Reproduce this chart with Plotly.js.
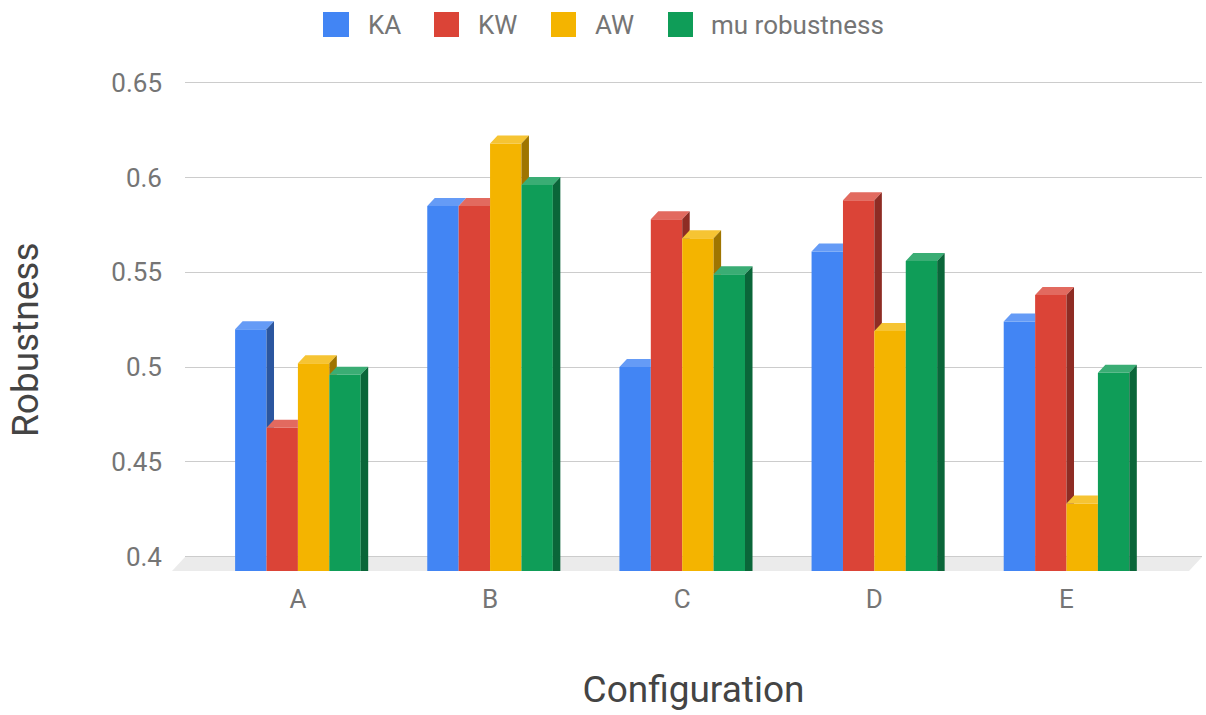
<!DOCTYPE html>
<html>
<head>
<meta charset="utf-8">
<script src="https://cdn.plot.ly/plotly-3.0.1.min.js"></script>
<style>html,body{margin:0;padding:0;background:#fff;}#chart{width:1206px;height:715px;}</style>
</head>
<body>
<div id="chart"></div>
<script>
// ---- data ----
const categories = ['A', 'B', 'C', 'D', 'E'];
const seriesNames = ['KA', 'KW', 'AW', 'mu robustness'];
const KA = [0.520, 0.585, 0.500, 0.561, 0.524];
const KW = [0.468, 0.585, 0.578, 0.588, 0.538];
const AW = [0.502, 0.618, 0.568, 0.519, 0.428];
const MU = [0.496, 0.596, 0.549, 0.556, 0.497];
const yTickVals = [0.4, 0.45, 0.5, 0.55, 0.6, 0.65];
const yTickText = ['0.4', '0.45', '0.5', '0.55', '0.6', '0.65'];

// ---- styling ----
const seriesValues = [KA, KW, AW, MU];
const frontColors = ['#4285F4', '#DB4437', '#F4B400', '#0F9D58'];
const topColors   = ['#659bf6', '#e26a5f', '#f6c433', '#3aad74'];
const sideColors  = ['#2b569f', '#8e2c24', '#9f7500', '#0a6639'];

const W = 1206, H = 715;
const plotL = 185, plotR = 1202, plotT = 70, plotB = 571;
const xRange = [-0.5876, 4.7051];
const yRange = [0.39246, 0.6567];
const pxPerX = (plotR - plotL) / (xRange[1] - xRange[0]);
const pxPerY = (plotB - plotT) / (yRange[1] - yRange[0]);
const bw = 0.1634;           // width of one bar (x units)
const dx = 7.5 / pxPerX;     // 3D depth, x
const dy = 8 / pxPerY;       // 3D depth, y
const yBase = yRange[0];
const catX = categories.map((c, i) => i);

const px2paperX = p => (p - plotL) / (plotR - plotL);
const px2paperY = p => (plotB - p) / (plotB - plotT);

const traces = [];
// front faces as bars
seriesValues.forEach((vals, j) => {
  traces.push({
    type: 'bar',
    name: seriesNames[j],
    x: catX,
    y: vals.map(v => v - yBase),
    base: yBase,
    width: bw,
    offset: (j - 2) * bw,
    marker: {color: frontColors[j], line: {width: 0}},
    customdata: vals,
    hovertemplate: seriesNames[j] + ': %{customdata}<extra></extra>',
    showlegend: false
  });
});
// top and side faces (3D), hidden parts removed
seriesValues.forEach((vals, j) => {
  const tx = [], ty = [], sx = [], sy = [];
  vals.forEach((v, i) => {
    const xl = catX[i] + (j - 2) * bw, xr = xl + bw;
    const hasNext = j < seriesValues.length - 1;
    const vn = hasNext ? seriesValues[j + 1][i] : -Infinity;
    // top face
    const t = Math.max(0, Math.min(1, (vn - v) / dy));
    if (t <= 0) {
      tx.push(xl, xr, xr + dx, xl + dx, xl, null);
      ty.push(v, v, v + dy, v + dy, v, null);
    } else if (t >= 1) {
      tx.push(xl, xr, xr, xl + dx, xl, null);
      ty.push(v, v, v + dy, v + dy, v, null);
    } else {
      tx.push(xl, xr, xr, xr + dx * t, xr + dx, xl + dx, xl, null);
      ty.push(v, v, vn, vn, v + dy, v + dy, v, null);
    }
    // side face
    if (v > vn) {
      const low = hasNext ? vn : yBase;
      sx.push(xr, xr, xr + dx, xr + dx, xr, null);
      sy.push(low, v, v + dy, low, low, null);
    }
  });
  traces.push({type: 'scatter', mode: 'lines', x: tx, y: ty, fill: 'toself',
    fillcolor: topColors[j], line: {width: 0, color: topColors[j]}, hoverinfo: 'skip', showlegend: false});
  traces.push({type: 'scatter', mode: 'lines', x: sx, y: sy, fill: 'toself',
    fillcolor: sideColors[j], line: {width: 0, color: sideColors[j]}, hoverinfo: 'skip', showlegend: false});
});

// floor
const shapes = [{
  type: 'path', xref: 'paper', yref: 'paper', layer: 'below',
  path: 'M ' + px2paperX(172) + ' ' + px2paperY(plotB) +
        ' L ' + px2paperX(1189) + ' ' + px2paperY(plotB) +
        ' L ' + px2paperX(1202) + ' ' + px2paperY(557) +
        ' L ' + px2paperX(185) + ' ' + px2paperY(557) + ' Z',
  fillcolor: '#ebebeb', line: {width: 0}
}];
// legend
const legSwatch = [[323, 349], [434, 459], [551, 576], [668, 693]];
const legText = [366, 476, 593, 709];
const annotations = [];
seriesNames.forEach((n, j) => {
  shapes.push({type: 'rect', xref: 'paper', yref: 'paper',
    x0: px2paperX(legSwatch[j][0]), x1: px2paperX(legSwatch[j][1]),
    y0: px2paperY(37), y1: px2paperY(12),
    fillcolor: frontColors[j], line: {width: 0}});
  annotations.push({xref: 'paper', yref: 'paper', x: px2paperX(legText[j]), y: px2paperY(25),
    xanchor: 'left', yanchor: 'middle', showarrow: false, text: n,
    font: {family: 'Roboto', size: 26, color: '#757575'}});
});
// y axis title
annotations.push({xref: 'paper', yref: 'paper', x: px2paperX(25), y: px2paperY(340),
  xanchor: 'center', yanchor: 'middle', showarrow: false, text: 'Robustness', textangle: -90,
  font: {family: 'Roboto', size: 37, color: '#444444'}});

const layout = {
  width: W, height: H,
  margin: {l: plotL, r: W - plotR, t: plotT, b: H - plotB, pad: 0},
  paper_bgcolor: '#ffffff', plot_bgcolor: '#ffffff',
  font: {family: 'Roboto', color: '#757575'},
  barmode: 'overlay',
  showlegend: false,
  xaxis: {
    range: xRange, tickvals: catX, ticktext: categories,
    showgrid: false, zeroline: false, showline: false, ticks: '',
    tickfont: {family: 'Roboto', size: 26, color: '#757575'},
    ticklabelstandoff: 10,
    title: {text: 'Configuration', font: {family: 'Roboto', size: 37, color: '#444444'}, standoff: 63},
    automargin: false, fixedrange: true
  },
  yaxis: {
    range: yRange, tickvals: yTickVals, ticktext: yTickText,
    showgrid: true, gridcolor: '#cccccc', gridwidth: 1,
    zeroline: false, showline: false, ticks: '',
    tickfont: {family: 'Roboto', size: 26, color: '#757575'},
    ticklabelstandoff: 22,
    automargin: false, fixedrange: true
  },
  shapes: shapes,
  annotations: annotations
};

Plotly.newPlot('chart', traces, layout, {displayModeBar: false, staticPlot: true});
</script>
</body>
</html>
